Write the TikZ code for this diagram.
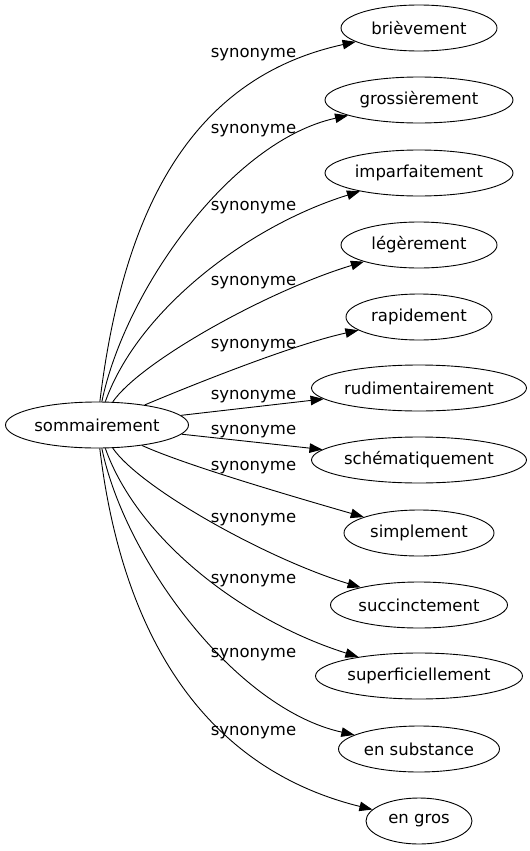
\documentclass[tikz,border=0pt]{standalone}
\usepackage{fontspec}
\setmainfont{DejaVu Sans}
\usetikzlibrary{shapes.geometric,arrows.meta}

\begin{document}
\begin{tikzpicture}[x=1bp, y=-1bp,
    word/.style={draw, ellipse, line width=0.9bp, inner sep=1bp, minimum height=46bp, font=\fontsize{16.5bp}{19bp}\selectfont},
    lbl/.style={inner sep=0pt, font=\fontsize{16.5bp}{19bp}\selectfont},
    syn/.style={line width=0.9bp, -{Triangle[length=13bp,width=9.5bp]}}]
    \useasboundingbox (0,0) rectangle (530,851);
    % source
    \node[word, minimum width=183bp] (somm) at (97,425) {sommairement};
    % synonyms
    \node[word, minimum width=156bp] (brie) at (419,28) {brièvement};
    \node[word, minimum width=188bp] (grossi) at (419,100) {grossièrement};
    \node[word, minimum width=188bp] (impa) at (419,173) {imparfaitement};
    \node[word, minimum width=156bp] (lege) at (419,245) {légèrement};
    \node[word, minimum width=146bp] (rapi) at (419,317) {rapidement};
    \node[word, minimum width=215bp] (rudi) at (419,388) {rudimentairement};
    \node[word, minimum width=215bp] (sche) at (419,460) {schématiquement};
    \node[word, minimum width=150bp] (simp) at (419,533) {simplement};
    \node[word, minimum width=177bp] (succ) at (419,605) {succinctement};
    \node[word, minimum width=207bp] (supe) at (419,676) {superficiellement};
    \node[word, minimum width=161bp] (subs) at (419,749) {en substance};
    \node[word, minimum width=106bp] (engros) at (419,821) {en gros};
    % edge labels
    \node[lbl] (lb1) at (253.5,55) {synonyme};
    \node[lbl] (lb2) at (253.5,131) {synonyme};
    \node[lbl] (lb3) at (253.5,208) {synonyme};
    \node[lbl] (lb4) at (253.5,283) {synonyme};
    \node[lbl] (lb5) at (253.5,346) {synonyme};
    \node[lbl] (lb6) at (253.5,397) {synonyme};
    \node[lbl] (lb7) at (253.5,432) {synonyme};
    \node[lbl] (lb8) at (253.5,468) {synonyme};
    \node[lbl] (lb9) at (253.5,520) {synonyme};
    \node[lbl] (lb10) at (253.5,581) {synonyme};
    \node[lbl] (lb11) at (253.5,655) {synonyme};
    \node[lbl] (lb12) at (253.5,733) {synonyme};
    % edges
    \draw[syn] (somm) .. controls (122,220) and (185,79) .. (brie);
    \draw[syn] (somm) .. controls (125,290) and (231,141) .. (grossi);
    \draw[syn] (somm) .. controls (138,310) and (248,226) .. (impa);
    \draw[syn] (somm) .. controls (140,362) and (267,291) .. (lege);
    \draw[syn] (somm) .. controls (185,388) and (291,345) .. (rapi);
    \draw[syn] (somm) -- (rudi);
    \draw[syn] (somm) -- (sche);
    \draw[syn] (somm) .. controls (185,465) and (291,496) .. (simp);
    \draw[syn] (somm) .. controls (140,488) and (267,559) .. (succ);
    \draw[syn] (somm) .. controls (138,540) and (244,621) .. (supe);
    \draw[syn] (somm) .. controls (125,560) and (236,709) .. (subs);
    \draw[syn] (somm) .. controls (122,635) and (204,768) .. (engros);
\end{tikzpicture}
\end{document}
